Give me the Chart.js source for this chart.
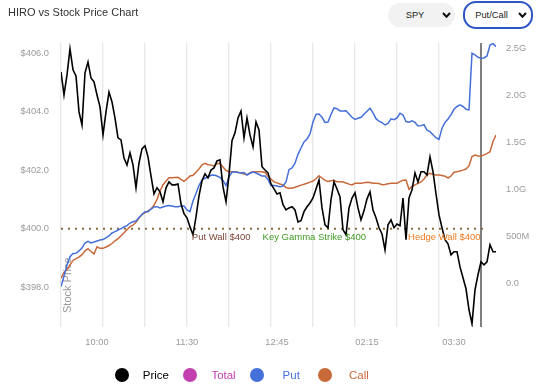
<!DOCTYPE html>
<html>
<head>
<meta charset="utf-8">
<title>HIRO vs Stock Price Chart</title>
<script src="https://cdn.jsdelivr.net/npm/chart.js"></script>
<style>
  html, body { margin: 0; padding: 0; background: #fff; }
  body { width: 550px; height: 392px; position: relative; overflow: hidden; font-family: 'Liberation Sans', Arial, Helvetica, sans-serif; }
  #hiroChart { position: absolute; left: 0; top: 0; }
  .title { position: absolute; left: 8px; top: 7px; font-size: 11px; line-height: 11px; color: #333; }
  .select { position: absolute; box-sizing: border-box; display: flex; align-items: center; font-size: 9.3px; color: #222; border-radius: 13px; }
  .select.spy { left: 388px; top: 3px; width: 67px; height: 24px; background: #f2f2f2; }
  .select.mode { left: 463px; top: 1px; width: 70px; height: 28px; border: 2px solid #2f55c6; background: #fff; }
  .select span { flex: 1; text-align: center; }
  .select svg { margin-right: 4px; }
  #legend { position: absolute; left: 115px; top: 368px; display: flex; }
  .item { width: 67.7px; height: 14px; display: flex; align-items: center; font-size: 11.5px; }
  .dot { width: 14px; height: 14px; border-radius: 50%; }
  .item span { flex: 1; text-align: center; }
</style>
</head>
<body>
<canvas id="hiroChart" width="550" height="392"></canvas>
<div class="title">HIRO vs Stock Price Chart</div>
<div class="select spy"><span>SPY</span><svg width="9" height="6" viewBox="0 0 9 6"><polyline points="1,1 4.5,4.8 8,1" fill="none" stroke="#111" stroke-width="2"/></svg></div>
<div class="select mode"><span>Put/Call</span><svg width="9" height="6" viewBox="0 0 9 6"><polyline points="1,1 4.5,4.8 8,1" fill="none" stroke="#111" stroke-width="2"/></svg></div>
<div id="legend"></div>
<script>
// x is a sample index through the session (one sample every few minutes)
const timeLabels = ['10:00', '11:30', '12:45', '02:15', '03:30'];
const timeLabelIndex = [12, 42, 72, 102, 131];
const gridIndex = [0, 14, 28, 42, 56, 70, 84, 98, 112, 126, 140];
const nowIndex = 140;

const seriesNames = ['Price', 'Total', 'Put', 'Call'];

const priceValues = [
  405.37, 404.58, 405.27, 406.16, 405.44, 405.23, 404.00, 403.55, 405.34, 405.71,
  405.16, 405.03, 404.58, 404.17, 403.21, 404.00, 404.68, 404.34, 403.79, 403.11,
  403.04, 402.42, 402.18, 402.60, 402.18, 401.40, 402.25, 402.73, 402.84, 402.46,
  401.81, 401.19, 401.40, 401.26, 400.92, 401.40, 401.60, 401.50, 401.50, 401.53,
  400.85, 400.51, 400.37, 400.06, 399.79, 400.40, 401.12, 401.64, 401.88, 401.74,
  402.01, 402.08, 402.32, 402.36, 401.43, 400.92, 401.84, 403.01, 403.28, 403.79,
  404.03, 403.11, 403.79, 403.21, 402.80, 403.66, 403.38, 402.12, 402.01, 401.91,
  401.53, 401.36, 401.19, 401.23, 400.82, 400.64, 400.71, 400.75, 400.64, 400.23,
  400.27, 400.58, 400.75, 400.88, 401.05, 401.36, 401.67, 400.71, 400.13, 400.03,
  400.99, 401.60, 401.36, 401.09, 399.96, 399.79, 400.71, 401.05, 401.23, 400.71,
  400.30, 400.61, 401.02, 401.26, 400.64, 400.37, 400.03, 399.82, 399.27, 400.13,
  400.30, 400.03, 400.16, 400.10, 401.05, 399.62, 401.05, 401.33, 401.91, 401.60,
  401.95, 401.95, 401.84, 402.46, 401.95, 401.19, 400.47, 400.03, 399.62, 399.48,
  399.10, 399.21, 399.21, 398.69, 398.32, 397.94, 397.22, 396.74, 397.90, 398.42,
  398.86, 398.76, 398.86, 399.45, 399.21, 399.21
];

// HIRO flows in billions
const putValues = [
  -0.036, 0.078, 0.195, 0.283, 0.317, 0.319, 0.344, 0.376, 0.429, 0.445,
  0.429, 0.439, 0.450, 0.461, 0.466, 0.482, 0.503, 0.535, 0.549, 0.567,
  0.581, 0.599, 0.613, 0.641, 0.655, 0.663, 0.700, 0.732, 0.762, 0.762,
  0.790, 0.812, 0.815, 0.801, 0.812, 0.822, 0.828, 0.822, 0.815, 0.815,
  0.822, 0.822, 0.780, 0.762, 0.876, 0.955, 1.040, 1.099, 1.117, 1.131,
  1.149, 1.152, 1.141, 1.126, 1.094, 1.040, 1.131, 1.181, 1.187, 1.179,
  1.173, 1.179, 1.152, 1.170, 1.184, 1.173, 1.157, 1.141, 1.141, 1.104,
  1.040, 1.040, 1.035, 1.028, 1.035, 1.078, 1.209, 1.227, 1.277, 1.372,
  1.439, 1.503, 1.535, 1.588, 1.716, 1.796, 1.801, 1.766, 1.711, 1.716,
  1.796, 1.865, 1.857, 1.833, 1.833, 1.836, 1.801, 1.766, 1.743, 1.755,
  1.766, 1.798, 1.830, 1.862, 1.812, 1.751, 1.724, 1.709, 1.684, 1.700,
  1.750, 1.740, 1.759, 1.809, 1.790, 1.721, 1.714, 1.729, 1.711, 1.673,
  1.677, 1.687, 1.629, 1.613, 1.581, 1.549, 1.530, 1.649, 1.711, 1.748,
  1.794, 1.851, 1.881, 1.897, 1.881, 1.851, 1.844, 2.447, 2.429, 2.404,
  2.394, 2.397, 2.418, 2.535, 2.551, 2.517
];

const callValues = [
  0.053, 0.115, 0.147, 0.195, 0.243, 0.262, 0.278, 0.305, 0.346, 0.367,
  0.338, 0.312, 0.388, 0.372, 0.372, 0.386, 0.402, 0.423, 0.452, 0.474,
  0.506, 0.538, 0.570, 0.602, 0.618, 0.649, 0.693, 0.731, 0.752, 0.769,
  0.790, 0.830, 0.893, 0.982, 1.046, 1.088, 1.123, 1.123, 1.126, 1.127,
  1.106, 1.085, 1.110, 1.141, 1.149, 1.181, 1.216, 1.261, 1.277, 1.261,
  1.259, 1.246, 1.272, 1.277, 1.237, 1.200, 1.187, 1.187, 1.187, 1.181,
  1.172, 1.163, 1.154, 1.176, 1.187, 1.187, 1.187, 1.186, 1.179, 1.139,
  1.110, 1.079, 1.068, 1.057, 1.047, 1.018, 1.011, 1.011, 1.022, 1.032,
  1.044, 1.054, 1.065, 1.076, 1.088, 1.112, 1.145, 1.120, 1.094, 1.082,
  1.090, 1.096, 1.081, 1.081, 1.077, 1.066, 1.055, 1.046, 1.064, 1.064,
  1.065, 1.069, 1.074, 1.072, 1.064, 1.064, 1.061, 1.049, 1.050, 1.059,
  1.064, 1.064, 1.064, 1.081, 1.097, 1.099, 1.000, 1.030, 1.046, 1.062,
  1.078, 1.110, 1.154, 1.170, 1.160, 1.152, 1.152, 1.147, 1.139, 1.120,
  1.141, 1.182, 1.187, 1.194, 1.204, 1.215, 1.248, 1.349, 1.365, 1.354,
  1.352, 1.366, 1.379, 1.400, 1.509, 1.578
];

const totalValues = [];

const wallPrice = 400;
const wallRange = [0, 142];
const levelNames = ['Put Wall $400', 'Key Gamma Strike $400', 'Hedge Wall $400'];
const levelIndex = [43.6, 67.2, 115.7];

const priceTicks = [398, 400, 402, 404, 406];
const hiroTicks = [0, 0.5, 1, 1.5, 2, 2.5];

const fontFamily = "'Liberation Sans', Arial, Helvetica, sans-serif";
const axisGrey = '#9b9b9b';
const levelColors = ['#7d4538', '#3f9a22', '#ee7a1f'];

const toPoints = (values) => values.map((y, x) => ({ x, y }));

const formatHiro = (v) => {
  if (Math.abs(v) < 1e-9) return '0.0';
  if (v < 1) return Math.round(v * 1000) + 'M';
  return v.toFixed(1) + 'G';
};

// axis title drawn inside the plot, plus the $400 level notes
const chartNotes = {
  id: 'chartNotes',
  beforeDatasetsDraw(chart) {
    const { ctx, chartArea } = chart;
    ctx.save();
    ctx.translate(chartArea.left + 7, chartArea.bottom - 14);
    ctx.rotate(-Math.PI / 2);
    ctx.font = `11px ${fontFamily}`;
    ctx.fillStyle = axisGrey;
    ctx.textBaseline = 'middle';
    ctx.fillText('Stock Price', 0, 0);
    ctx.restore();
  },
  afterDatasetsDraw(chart) {
    const { ctx, scales } = chart;
    const y = scales.y.getPixelForValue(wallPrice) + 4;
    ctx.save();
    ctx.font = `9.5px ${fontFamily}`;
    ctx.textBaseline = 'top';
    levelNames.forEach((name, i) => {
      ctx.fillStyle = levelColors[i];
      ctx.fillText(name, scales.x.getPixelForValue(levelIndex[i]), y);
    });
    ctx.restore();
  }
};

const chart = new Chart(document.getElementById('hiroChart'), {
  type: 'line',
  data: {
    datasets: [
      {
        label: 'Price',
        data: toPoints(priceValues),
        yAxisID: 'y',
        borderColor: '#000000',
        backgroundColor: '#000000',
        borderWidth: 1.6
      },
      {
        label: 'Total',
        data: toPoints(totalValues),
        yAxisID: 'y1',
        borderColor: '#c23fb0',
        backgroundColor: '#c23fb0',
        borderWidth: 1.5
      },
      {
        label: 'Put',
        data: toPoints(putValues),
        yAxisID: 'y1',
        borderColor: '#4570d9',
        backgroundColor: '#4570d9',
        borderWidth: 1.5
      },
      {
        label: 'Call',
        data: toPoints(callValues),
        yAxisID: 'y1',
        borderColor: '#c8693a',
        backgroundColor: '#c8693a',
        borderWidth: 1.5
      },
      {
        label: 'Level $400',
        data: wallRange.map((x) => ({ x, y: wallPrice })),
        yAxisID: 'y',
        borderColor: '#8d6c3c',
        borderWidth: 2,
        borderDash: [2, 5]
      }
    ]
  },
  options: {
    responsive: false,
    devicePixelRatio: 1,
    animation: false,
    layout: { padding: { top: 43, left: 0, right: 0, bottom: 0 } },
    elements: {
      point: { radius: 0 },
      line: { tension: 0 }
    },
    plugins: {
      legend: { display: false },
      tooltip: { enabled: false }
    },
    scales: {
      x: {
        type: 'linear',
        min: 0,
        max: priceValues.length - 1,
        afterBuildTicks(scale) {
          const all = [...new Set([...gridIndex, ...timeLabelIndex])].sort((a, b) => a - b);
          scale.ticks = all.map((value) => ({ value }));
        },
        afterFit(scale) {
          scale.height = 65;
        },
        grid: {
          drawTicks: false,
          color(c) {
            if (!c.tick || !gridIndex.includes(c.tick.value)) return 'rgba(0,0,0,0)';
            return c.tick.value === nowIndex ? '#7f7f7f' : '#e7e7e7';
          },
          lineWidth(c) {
            return c.tick && c.tick.value === nowIndex ? 2 : 1.3;
          }
        },
        border: { display: false },
        ticks: {
          autoSkip: false,
          maxRotation: 0,
          padding: 10,
          color: axisGrey,
          font: { size: 9.3, family: fontFamily },
          callback(value) {
            const k = timeLabelIndex.indexOf(value);
            return k >= 0 ? timeLabels[k] : '';
          }
        }
      },
      y: {
        position: 'left',
        min: 396.63,
        max: 406.36,
        afterBuildTicks(scale) {
          scale.ticks = priceTicks.map((value) => ({ value }));
        },
        afterFit(scale) {
          scale.width = 61;
        },
        grid: { display: false, drawTicks: false },
        border: { display: false },
        ticks: {
          padding: 12,
          color: axisGrey,
          font: { size: 9.3, family: fontFamily },
          callback: (value) => '$' + value.toFixed(1)
        }
      },
      y1: {
        position: 'right',
        min: -0.465,
        max: 2.556,
        afterBuildTicks(scale) {
          scale.ticks = hiroTicks.map((value) => ({ value }));
        },
        afterFit(scale) {
          scale.width = 54;
        },
        grid: { display: false, drawTicks: false },
        border: { display: false },
        ticks: {
          padding: 10,
          color: axisGrey,
          font: { size: 9.3, family: fontFamily },
          callback: (value) => formatHiro(value)
        }
      }
    }
  },
  plugins: [chartNotes]
});

// legend below the plot, built from the chart's own legend items
const legendEl = document.getElementById('legend');
Chart.defaults.plugins.legend.labels.generateLabels(chart)
  .filter((item) => seriesNames.includes(item.text))
  .forEach((item) => {
    const el = document.createElement('div');
    el.className = 'item';
    const dot = document.createElement('div');
    dot.className = 'dot';
    dot.style.background = item.strokeStyle;
    const txt = document.createElement('span');
    txt.textContent = item.text;
    txt.style.color = item.strokeStyle;
    el.appendChild(dot);
    el.appendChild(txt);
    legendEl.appendChild(el);
  });
</script>
</body>
</html>
